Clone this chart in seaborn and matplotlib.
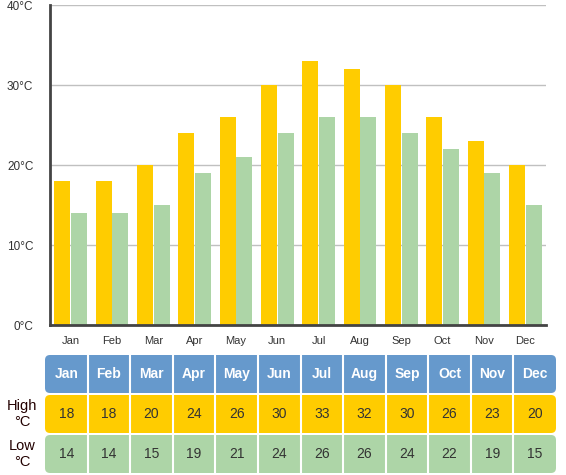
import numpy as np
import pandas as pd
import seaborn as sns
import matplotlib
matplotlib.use('Agg')
import matplotlib.pyplot as plt
from matplotlib.patches import FancyBboxPatch

months = ['Jan', 'Feb', 'Mar', 'Apr', 'May', 'Jun', 'Jul', 'Aug', 'Sep', 'Oct', 'Nov', 'Dec']
high = [18, 18, 20, 24, 26, 30, 33, 32, 30, 26, 23, 20]
low = [14, 14, 15, 19, 21, 24, 26, 26, 24, 22, 19, 15]
y_ticks = [0, 10, 20, 30, 40]

YELLOW = '#ffcc00'
GREEN = '#add5a7'
BLUE = '#6699cc'

W, H = 566, 475
df = pd.DataFrame({
    'month': months * 2,
    'temp': high + low,
    'kind': ['High'] * 12 + ['Low'] * 12,
})

sns.set_style('white')
plt.rcParams['font.family'] = ['Liberation Sans', 'DejaVu Sans']

fig = plt.figure(figsize=(W / 100, H / 100), dpi=100)
ax = fig.add_axes([50 / W, 1 - 325 / H, 496 / W, 320 / H])

sns.barplot(data=df, x='month', y='temp', hue='kind', palette=[YELLOW, GREEN],
            width=0.8, gap=0.03, legend=False, ax=ax, zorder=2, saturation=1,
            linewidth=0)

ax.set_ylim(0, 40)
ax.set_xlim(-0.5, 11.5)
ax.set_yticks(y_ticks)
ax.set_yticklabels([f'{t}°C' for t in y_ticks], fontsize=8.5, color='#333333')
ax.yaxis.grid(True, color='#c0c0c0', linewidth=1, zorder=0)
ax.set_axisbelow(True)
ax.set_xlabel('')
ax.set_ylabel('')
ax.tick_params(axis='y', length=0, pad=12)
ax.tick_params(axis='x', which='major', length=0, pad=8, labelsize=8, labelcolor='#333333')
ax.set_xticks(np.arange(-0.5, 12, 1), minor=True)
ax.tick_params(axis='x', which='minor', length=6, width=0.8, color='#c0d0e0')
for side in ['top', 'right']:
    ax.spines[side].set_visible(False)
for side in ['left', 'bottom']:
    ax.spines[side].set_color('#444444')
    ax.spines[side].set_linewidth(2)

# table under the chart, drawn in pixel coordinates
tab = fig.add_axes([0, 0, 1, 1])
tab.set_xlim(0, W)
tab.set_ylim(H, 0)
tab.axis('off')

x0, x1 = 45, 556
cw = (x1 - x0) / 12
rows = [
    (355, 393, BLUE, months, 'white', 'bold', None),
    (395, 433, YELLOW, [str(v) for v in high], '#333333', 'normal', 'High\n°C'),
    (435, 473, GREEN, [str(v) for v in low], '#333333', 'normal', 'Low\n°C'),
]
for top, bot, col, texts, tc, fw, label in rows:
    tab.add_patch(FancyBboxPatch((x0, top), x1 - x0, bot - top,
                                 boxstyle='round,pad=0,rounding_size=5',
                                 facecolor=col, edgecolor='none'))
    for i, t in enumerate(texts):
        tab.text(x0 + cw * (i + 0.5), (top + bot) / 2, t, ha='center', va='center',
                 color=tc, fontsize=10, fontweight=fw)
        if i > 0:
            tab.plot([x0 + cw * i] * 2, [top, bot], color='white', linewidth=1.5)
    if label:
        tab.text(22, (top + bot) / 2, label, ha='center', va='center',
                 color='#220000', fontsize=10.5, linespacing=1.15)

fig.savefig('out.png', dpi=100)
